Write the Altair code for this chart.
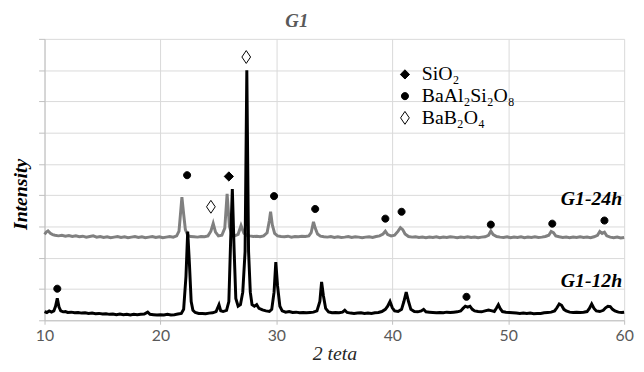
import altair as alt
import pandas as pd

# ---- G1-12h (black) pattern: 2theta and intensity (gridline units) ----
x12 = [10.0, 10.2, 10.4, 10.6, 10.8, 10.95, 11.1, 11.25, 11.4, 11.6, 11.8, 12.0, 12.3, 12.6, 12.9,
       13.2, 13.5, 13.8, 14.1, 14.4, 14.7, 15.0, 15.3, 15.6, 15.9, 16.2, 16.5, 16.8, 17.1, 17.4,
       17.7, 18.0, 18.3, 18.6, 18.9, 19.1, 19.4, 19.7, 20.0, 20.3, 20.6, 20.9, 21.2, 21.5, 21.8,
       22.0, 22.2, 22.35, 22.5, 22.65, 22.8, 23.0, 23.3, 23.6, 23.9, 24.2, 24.5, 24.8, 25.05, 25.2,
       25.4, 25.7, 25.9, 26.05, 26.2, 26.35, 26.5, 26.7, 26.9, 27.1, 27.3, 27.45, 27.6, 27.75, 27.9,
       28.1, 28.3, 28.5, 28.8, 29.1, 29.4, 29.6, 29.8, 29.95, 30.1, 30.3, 30.5, 30.8, 31.1, 31.4,
       31.7, 32.0, 32.3, 32.6, 32.9, 33.2, 33.5, 33.75, 33.9, 34.05, 34.25, 34.5, 34.8, 35.1, 35.4,
       35.7, 35.9, 36.1, 36.4, 36.7, 37.0, 37.3, 37.6, 37.9, 38.2, 38.5, 38.8, 39.1, 39.4, 39.6,
       39.8, 40.0, 40.2, 40.5, 40.8, 41.0, 41.2, 41.4, 41.6, 41.9, 42.2, 42.5, 42.7, 42.9, 43.2,
       43.5, 43.8, 44.1, 44.4, 44.7, 45.0, 45.3, 45.6, 45.9, 46.1, 46.3, 46.5, 46.7, 46.9, 47.1,
       47.4, 47.7, 48.0, 48.3, 48.6, 48.8, 49.0, 49.15, 49.3, 49.5, 49.8, 50.1, 50.4, 50.7, 51.0,
       51.3, 51.6, 51.9, 52.2, 52.5, 52.8, 53.1, 53.4, 53.7, 54.0, 54.2, 54.4, 54.6, 54.8, 55.0,
       55.3, 55.6, 55.9, 56.2, 56.5, 56.8, 57.0, 57.2, 57.4, 57.6, 57.9, 58.2, 58.4, 58.6, 58.8,
       59.0, 59.2, 59.5, 59.8, 60.0]
y12 = [0.28, 0.25, 0.30, 0.26, 0.30, 0.45, 0.70, 0.42, 0.30, 0.27, 0.28, 0.25, 0.26, 0.24, 0.25,
       0.23, 0.24, 0.22, 0.23, 0.21, 0.22, 0.20, 0.21, 0.19, 0.20, 0.18, 0.20, 0.18, 0.19, 0.17,
       0.19, 0.18, 0.19, 0.20, 0.26, 0.19, 0.18, 0.17, 0.18, 0.17, 0.19, 0.17, 0.18, 0.20, 0.22,
       0.35, 1.40, 2.84, 1.80, 0.60, 0.32, 0.25, 0.22, 0.22, 0.21, 0.23, 0.24, 0.28, 0.50, 0.30,
       0.28, 0.32, 0.60, 2.50, 4.20, 2.30, 0.70, 0.45, 0.50, 0.90, 2.20, 8.00, 2.20, 0.90, 0.50,
       0.45, 0.50, 0.38, 0.33, 0.30, 0.28, 0.35, 0.90, 1.86, 1.10, 0.45, 0.30, 0.26, 0.28, 0.25,
       0.26, 0.24, 0.25, 0.24, 0.25, 0.26, 0.30, 0.60, 1.23, 0.80, 0.38, 0.27, 0.24, 0.25, 0.24,
       0.26, 0.32, 0.25, 0.23, 0.22, 0.23, 0.24, 0.22, 0.23, 0.22, 0.24, 0.25, 0.28, 0.35, 0.45,
       0.60, 0.40, 0.30, 0.28, 0.35, 0.60, 0.90, 0.60, 0.35, 0.28, 0.27, 0.30, 0.35, 0.27, 0.26,
       0.25, 0.24, 0.25, 0.24, 0.26, 0.25, 0.26, 0.27, 0.30, 0.38, 0.45, 0.42, 0.45, 0.35, 0.30,
       0.28, 0.27, 0.30, 0.33, 0.30, 0.28, 0.40, 0.50, 0.38, 0.28, 0.26, 0.25, 0.24, 0.23, 0.22,
       0.23, 0.22, 0.23, 0.21, 0.22, 0.22, 0.24, 0.25, 0.26, 0.30, 0.40, 0.52, 0.48, 0.35, 0.30,
       0.26, 0.25, 0.26, 0.25, 0.26, 0.28, 0.38, 0.52, 0.38, 0.30, 0.28, 0.32, 0.40, 0.45, 0.44,
       0.35, 0.30, 0.26, 0.25, 0.26]

# ---- G1-24h (grey) pattern ----
x24 = [10.0, 10.15, 10.3, 10.5, 10.7, 10.9, 11.2, 11.5, 11.8, 12.1, 12.4, 12.7, 13.0, 13.3, 13.6,
       13.9, 14.2, 14.5, 14.8, 15.1, 15.4, 15.7, 16.0, 16.3, 16.6, 16.9, 17.2, 17.5, 17.8, 18.1,
       18.4, 18.7, 19.0, 19.3, 19.6, 19.9, 20.2, 20.5, 20.8, 21.1, 21.4, 21.6, 21.75, 21.85, 22.0,
       22.15, 22.35, 22.6, 22.9, 23.2, 23.5, 23.8, 24.1, 24.35, 24.55, 24.75, 25.0, 25.3, 25.55, 25.75,
       25.95, 26.15, 26.4, 26.7, 26.95, 27.2, 27.45, 27.7, 28.0, 28.3, 28.6, 28.9, 29.2, 29.4, 29.5,
       29.65, 29.85, 30.1, 30.4, 30.7, 31.0, 31.3, 31.6, 31.9, 32.2, 32.5, 32.8, 33.0, 33.2, 33.35,
       33.55, 33.8, 34.1, 34.4, 34.7, 35.0, 35.3, 35.6, 35.9, 36.2, 36.5, 36.8, 37.1, 37.4, 37.7,
       38.0, 38.3, 38.6, 38.9, 39.2, 39.4, 39.6, 39.9, 40.2, 40.5, 40.7, 40.9, 41.1, 41.4, 41.7,
       42.0, 42.3, 42.6, 42.9, 43.2, 43.5, 43.8, 44.1, 44.4, 44.7, 45.0, 45.3, 45.6, 45.9, 46.2,
       46.5, 46.8, 47.1, 47.4, 47.7, 48.0, 48.3, 48.5, 48.7, 49.0, 49.3, 49.6, 49.9, 50.2, 50.5,
       50.8, 51.1, 51.4, 51.7, 52.0, 52.3, 52.6, 52.9, 53.2, 53.5, 53.7, 53.9, 54.1, 54.4, 54.7,
       55.0, 55.3, 55.6, 55.9, 56.2, 56.5, 56.8, 57.1, 57.4, 57.7, 57.9, 58.1, 58.3, 58.5, 58.8,
       59.1, 59.4, 59.7, 60.0]
y24 = [2.75, 2.82, 2.86, 2.78, 2.74, 2.72, 2.70, 2.72, 2.69, 2.71, 2.68, 2.70, 2.67, 2.69, 2.66,
       2.68, 2.70, 2.66, 2.68, 2.65, 2.67, 2.64, 2.66, 2.68, 2.65, 2.67, 2.64, 2.66, 2.68, 2.65,
       2.67, 2.64, 2.66, 2.68, 2.65, 2.67, 2.64, 2.66, 2.68, 2.66, 2.70, 2.85, 3.50, 3.94, 3.40,
       2.90, 2.72, 2.68, 2.67, 2.66, 2.68, 2.67, 2.70, 2.85, 3.10, 2.82, 2.70, 2.72, 2.95, 4.04,
       3.00, 2.75, 2.70, 2.75, 3.03, 2.78, 2.72, 2.70, 2.68, 2.69, 2.67, 2.70, 2.80, 3.20, 3.47,
       3.05, 2.78, 2.70, 2.68, 2.67, 2.69, 2.66, 2.68, 2.67, 2.69, 2.68, 2.70, 2.80, 3.15, 2.95,
       2.76, 2.69, 2.67, 2.66, 2.68, 2.65, 2.67, 2.65, 2.66, 2.68, 2.65, 2.67, 2.66, 2.64, 2.66,
       2.67, 2.65, 2.68, 2.70, 2.76, 2.85, 2.74, 2.70, 2.72, 2.85, 2.96, 2.90, 2.76, 2.68, 2.66,
       2.67, 2.65, 2.66, 2.64, 2.66, 2.65, 2.67, 2.64, 2.66, 2.65, 2.67, 2.66, 2.64, 2.66, 2.65,
       2.67, 2.65, 2.66, 2.64, 2.66, 2.67, 2.72, 2.85, 2.74, 2.68, 2.66, 2.65, 2.67, 2.64, 2.66,
       2.65, 2.67, 2.64, 2.66, 2.65, 2.67, 2.65, 2.66, 2.68, 2.72, 2.84, 2.80, 2.70, 2.67, 2.65,
       2.66, 2.64, 2.66, 2.65, 2.67, 2.65, 2.66, 2.64, 2.67, 2.72, 2.84, 2.78, 2.82, 2.70, 2.66,
       2.64, 2.66, 2.63, 2.65]

# ---- phase markers ----
phases = ["SiO₂", "BaAl₂Si₂O₈", "BaB₂O₄"]
marker_x = [11.1, 46.4, 22.3, 29.8, 33.35, 39.4, 40.8, 48.5, 53.8, 58.3, 25.9, 24.35, 27.4]
marker_y = [1.01, 0.75, 4.64, 3.97, 3.56, 3.25, 3.47, 3.06, 3.09, 3.19, 4.60, 3.63, 8.42]
marker_phase = ["BaAl₂Si₂O₈"] * 10 + ["SiO₂", "BaB₂O₄", "BaB₂O₄"]

# ---- series labels ----
label_text = ["G1-24h", "G1-12h"]
label_x = [60.0, 60.0]
label_y = [3.69, 1.07]

df12 = pd.DataFrame({"teta": x12, "intensity": y12})
df24 = pd.DataFrame({"teta": x24, "intensity": y24})
dfm = pd.DataFrame({"teta": marker_x, "intensity": marker_y, "phase": marker_phase})
dfl = pd.DataFrame({"teta": label_x, "intensity": label_y, "label": label_text})

GRID = "#d9d9d9"
AXIS = "#bfbfbf"

xscale = alt.Scale(domain=[10, 60], nice=False, zero=False)
yscale = alt.Scale(domain=[0, 9], nice=False)

xenc = alt.X("teta:Q", scale=xscale, axis=alt.Axis(
    values=[10, 20, 30, 40, 50, 60], format="d", grid=True, gridColor=GRID,
    domainColor=AXIS, tickColor=AXIS, tickSize=4, labelFlush=False,
    labelFont="Lato", labelFontSize=16, labelColor="#595959", labelPadding=3,
    title="2 teta", titleFont="Liberation Serif", titleFontSize=20,
    titleFontStyle="italic", titleFontWeight="normal", titleColor="#262626",
    titlePadding=1))
yenc = alt.Y("intensity:Q", scale=yscale, axis=alt.Axis(
    values=list(range(0, 10)), labels=False, grid=True, gridColor=GRID,
    domainColor=AXIS, tickColor=AXIS, tickSize=6,
    title="Intensity", titleFont="Liberation Serif", titleFontSize=20,
    titleFontStyle="italic", titleFontWeight="bold", titleColor="#000000",
    titleAngle=-90, titleX=-24, titleY=157, titleAlign="center",
    titleBaseline="middle"))

grey_line = alt.Chart(df24).mark_line(color="#808080", strokeWidth=3).encode(
    x=xenc, y=yenc)
black_line = alt.Chart(df12).mark_line(color="#000000", strokeWidth=3).encode(
    x=xenc, y=yenc)

legend = alt.Legend(title=None, orient="none", legendX=355, legendY=26,
                    labelFont="Liberation Serif", labelFontSize=20,
                    labelColor="#000000", labelOffset=7, rowPadding=2,
                    padding=0, symbolSize=169, symbolStrokeWidth=1)
# custom symbols drawn in the unit square, all at the same size
filled_diamond = "M0,-0.72L0.72,0L0,0.72L-0.72,0Z"
dot = "M0.55,0A0.55,0.55,0,1,1,-0.55,0A0.55,0.55,0,1,1,0.55,0Z"
open_diamond = "M0,-1L0.68,0L0,1L-0.68,0Z"
markers = alt.Chart(dfm).mark_point(filled=True, strokeWidth=1, opacity=1,
                                    size=169).encode(
    x=xenc, y=yenc,
    shape=alt.Shape("phase:N", scale=alt.Scale(domain=phases,
                    range=[filled_diamond, dot, open_diamond]), legend=legend),
    fill=alt.Fill("phase:N", scale=alt.Scale(domain=phases,
                  range=["#000000", "#000000", "#ffffff"]), legend=legend),
    stroke=alt.Stroke("phase:N", scale=alt.Scale(domain=phases,
                      range=["#000000", "#000000", "#000000"]), legend=legend),
)

labels = alt.Chart(dfl).mark_text(
    font="Liberation Serif", fontSize=20, fontStyle="italic",
    fontWeight="bold", color="#000000", align="right",
    baseline="alphabetic", dx=-2).encode(
    x=xenc, y=yenc, text="label:N")

chart = alt.layer(grey_line, black_line, markers, labels).properties(
    width=587, height=285,
    autosize="none",
    padding={"left": 37, "top": 29, "right": 12, "bottom": 42},
    title=alt.TitleParams("G1", font="Liberation Serif", fontSize=19,
                          fontStyle="italic", fontWeight="bold",
                          color="#595959", anchor="middle", dx=-38, offset=8),
).configure_view(stroke=None)

chart.save("out.html", embed_options={"renderer": "svg", "actions": False})
